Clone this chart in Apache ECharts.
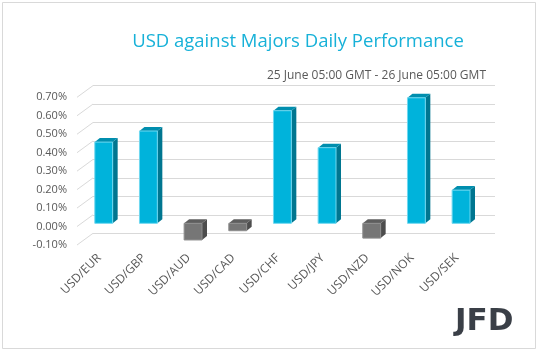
<!DOCTYPE html>
<html>
<head>
<meta charset="utf-8">
<script src="https://cdn.jsdelivr.net/npm/echarts@6/dist/echarts.min.js"></script>
<style>
  html, body { margin: 0; padding: 0; background: #fff; }
  #chart { width: 538px; height: 351px; }
</style>
</head>
<body>
<div id="chart"></div>
<script>
// data (percent)
var pairs = ['USD/EUR', 'USD/GBP', 'USD/AUD', 'USD/CAD', 'USD/CHF', 'USD/JPY', 'USD/NZD', 'USD/NOK', 'USD/SEK'];
var changes = [0.44, 0.50, -0.09, -0.04, 0.61, 0.41, -0.08, 0.68, 0.18];
var yTicks = [-0.1, 0, 0.1, 0.2, 0.3, 0.4, 0.5, 0.6, 0.7];

var titleText = 'USD against Majors Daily Performance';
var subText = '25 June 05:00 GMT - 26 June 05:00 GMT';

var myChart = echarts.init(document.getElementById('chart'));

var barData = changes.map(function (v, i) { return [i, v]; });

// depth of the bars and of the side wall
var bd = [5, -4];
var wd = [16, -11.7];

function renderBar(params, api) {
    var i = api.value(0), v = api.value(1);
    var base = api.coord([i, 0]);
    var tip = api.coord([i, v]);
    var w = api.size([1, 0])[0] * 0.4;
    var x0 = base[0] - w / 2, x1 = base[0] + w / 2;
    var yT = Math.min(base[1], tip[1]), yB = Math.max(base[1], tip[1]);
    var pos = v >= 0;
    var cFront = pos ? '#00b3db' : '#767676';
    var cSide = pos ? '#007690' : '#4d4d4d';
    var cTop = pos ? '#008eae' : '#5e5e5e';
    return {
        type: 'group',
        children: [
            { type: 'polygon', shape: { points: [[x1, yT], [x1 + bd[0], yT + bd[1]], [x1 + bd[0], yB + bd[1]], [x1, yB]] },
              style: { fill: cSide } },
            { type: 'polygon', shape: { points: [[x0, yT], [x1, yT], [x1 + bd[0], yT + bd[1]], [x0 + bd[0], yT + bd[1]]] },
              style: { fill: cTop } },
            { type: 'rect', shape: { x: x0, y: yT, width: w, height: yB - yT },
              style: { fill: cFront, stroke: pos ? '#6fd8f0' : '#8c8c8c', lineWidth: 1 } }
        ]
    };
}

function renderWall(params, api) {
    var v = api.value(0);
    var y = api.coord([0, v])[1];
    var x = params.coordSys.x;
    return {
        type: 'line',
        shape: { x1: x, y1: y, x2: x + wd[0], y2: y + wd[1] },
        style: { stroke: '#d9d9d9', lineWidth: 1 }
    };
}

var yBase = { type: 'value', min: -0.1, max: 0.7, interval: 0.1 };

option = {
    backgroundColor: '#fff',
    animation: false,
    title: [
        {
            text: titleText,
            left: 293, top: 27, textAlign: 'center',
            textStyle: { fontFamily: 'Open Sans', fontSize: 18.5, fontWeight: 'normal', color: '#17b1d8' }
        },
        {
            text: subText,
            right: 47, top: 65,
            textStyle: { fontFamily: 'Open Sans', fontSize: 12, fontWeight: 'normal', color: '#595959' }
        }
    ],
    graphic: [
        { type: 'rect', shape: { x: 2.5, y: 2.5, width: 533, height: 346 },
          style: { fill: 'none', stroke: '#d9d9d9', lineWidth: 1 } },
        { type: 'text', left: 455, top: 306,
          style: { text: 'JFD', font: 'bold 31px "DejaVu Sans"', fill: '#3a3f47' } }
    ],
    grid: [
        { left: 77, right: 59, top: 97.3, bottom: 106 },      // front plane
        { left: 93, right: 43, top: 85.6, bottom: 117.7 },    // back wall
        { left: 81.4, right: 54.6, top: 94.1, bottom: 109.2 } // bars
    ],
    xAxis: [
        { gridIndex: 0, type: 'category', data: pairs,
          axisLine: { show: false }, axisTick: { show: false },
          axisLabel: { rotate: 45, margin: 11, fontFamily: 'Open Sans', fontSize: 12, color: '#595959' } },
        { gridIndex: 1, type: 'category', data: pairs, show: false },
        { gridIndex: 2, type: 'category', data: pairs, show: false }
    ],
    yAxis: [
        Object.assign({ gridIndex: 0,
          axisLine: { show: false }, axisTick: { show: false }, splitLine: { show: false },
          axisLabel: { margin: 10, fontFamily: 'Open Sans', fontSize: 11, color: '#595959',
                       formatter: function (v) { return v.toFixed(2) + '%'; } } }, yBase),
        Object.assign({ gridIndex: 1,
          axisLine: { show: false }, axisTick: { show: false }, axisLabel: { show: false },
          splitLine: { show: true, lineStyle: { color: '#d9d9d9', width: 1 } } }, yBase),
        Object.assign({ gridIndex: 2, show: false, splitLine: { show: false } }, yBase)
    ],
    series: [
        { type: 'custom', xAxisIndex: 0, yAxisIndex: 0, renderItem: renderWall,
          data: yTicks.map(function (t) { return [t]; }), encode: { y: 0 }, silent: true },
        { type: 'custom', xAxisIndex: 2, yAxisIndex: 2, renderItem: renderBar,
          data: barData, encode: { x: 0, y: 1 } }
    ]
};

myChart.setOption(option);
</script>
</body>
</html>
